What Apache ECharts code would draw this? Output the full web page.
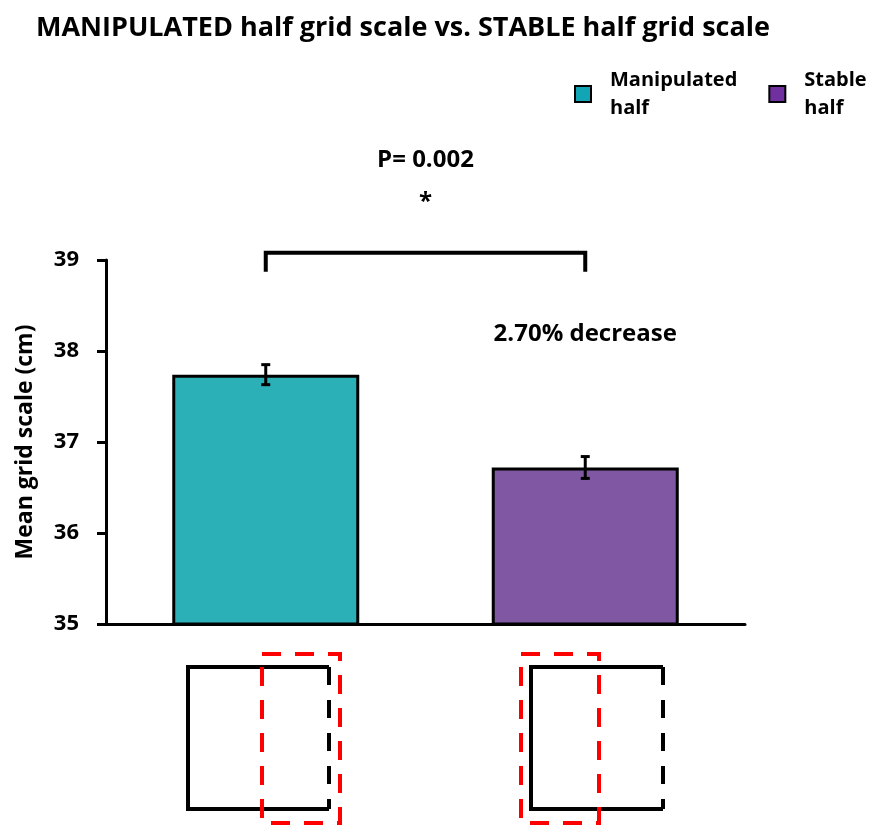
<!DOCTYPE html>
<html><head><meta charset="utf-8">
<script src="https://cdn.jsdelivr.net/npm/echarts@6/dist/echarts.min.js"></script>
<style>html,body{margin:0;padding:0;background:#fff}#chart{width:873px;height:825px}</style>
</head><body><div id="chart"></div>
<script>
// Mean grid scale per half, with standard error
const categories = ['Manipulated half', 'Stable half'];
const meanScale = [37.74, 36.72];
const errScale = [0.11, 0.12];
const yTicks = [35, 36, 37, 38, 39];
const barColors = ['#2BB0B7', '#7F57A2'];
const legendColors = ['#12A5B5', '#7030A0'];
const pValueText = 'P= 0.002';
const sigMark = '*';
const bracketLevels = [39.08, 38.87]; // bracket top and foot, in axis units
const decreaseLevel = 38.18;

const FONT = 'Open Sans';
const decreasePct = ((1 - meanScale[1] / meanScale[0]) * 100).toFixed(2) + '% decrease';

const chart = echarts.init(document.getElementById('chart'), null, {renderer: 'canvas'});

const barSeries = categories.map((name, i) => ({
  name: name,
  type: 'bar',
  data: categories.map((c, j) => (j === i ? meanScale[i] : '-')),
  barWidth: 187,
  barGap: '-100%',
  itemStyle: {color: barColors[i], borderColor: '#000', borderWidth: 3},
  z: 2
}));

const option = {
  animation: false,
  backgroundColor: '#fff',
  title: {
    text: 'MANIPULATED half grid scale vs. STABLE half grid scale',
    left: 31, top: 10,
    textStyle: {fontFamily: FONT, fontWeight: 'bold', fontSize: 27, color: '#000'}
  },
  legend: {
    left: 569, top: 61,
    itemWidth: 16, itemHeight: 16, itemGap: 31,
    icon: 'rect',
    data: categories.map((n, i) => ({name: n, itemStyle: {color: legendColors[i], borderColor: '#000', borderWidth: 2}})),
    formatter: n => n.replace(' ', '\n'),
    textStyle: {fontFamily: FONT, fontWeight: 'bold', fontSize: 20, lineHeight: 28, color: '#000', padding: [0, 0, 0, 14]}
  },
  grid: {left: 106, right: 128, top: 260, bottom: 201, containLabel: false},
  xAxis: {
    type: 'category', data: categories,
    axisLine: {lineStyle: {color: '#000', width: 3}},
    axisTick: {show: false}, axisLabel: {show: false}
  },
  yAxis: {
    type: 'value', min: yTicks[0], max: yTicks[yTicks.length - 1], interval: 1,
    name: 'Mean grid scale (cm)', nameLocation: 'middle', nameGap: 69, nameRotate: 90,
    nameTextStyle: {fontFamily: FONT, fontWeight: 'bold', fontSize: 23, color: '#000'},
    axisLine: {show: true, lineStyle: {color: '#000', width: 3}},
    axisTick: {show: true, length: 9, lineStyle: {color: '#000', width: 3}},
    axisLabel: {fontFamily: FONT, fontWeight: 'bold', fontSize: 22, color: '#000', margin: 27},
    splitLine: {show: false}
  },
  series: barSeries.concat([
    {
      type: 'custom', name: 'err', z: 5, silent: true,
      data: meanScale.map((m, i) => [i, m, errScale[i]]),
      renderItem: (params, api) => {
        const x = api.value(0), m = api.value(1), e = api.value(2);
        const hi = api.coord([x, m + e]), lo = api.coord([x, m - e]);
        const cap = 4.5;
        const st = {stroke: '#000', lineWidth: 3};
        return {type: 'group', children: [
          {type: 'line', shape: {x1: hi[0], y1: hi[1], x2: lo[0], y2: lo[1]}, style: st},
          {type: 'line', shape: {x1: hi[0] - cap, y1: hi[1], x2: hi[0] + cap, y2: hi[1]}, style: st},
          {type: 'line', shape: {x1: lo[0] - cap, y1: lo[1], x2: lo[0] + cap, y2: lo[1]}, style: st}
        ]};
      }
    },
    {
      type: 'custom', name: 'bracket', z: 5, silent: true, clip: false,
      data: [[0, 1, bracketLevels[0], bracketLevels[1]]],
      renderItem: (params, api) => {
        const a0 = api.coord([api.value(0), api.value(3)]);
        const a1 = api.coord([api.value(0), api.value(2)]);
        const b1 = api.coord([api.value(1), api.value(2)]);
        const b0 = api.coord([api.value(1), api.value(3)]);
        const mid = (a1[0] + b1[0]) / 2;
        return {type: 'group', children: [
          {type: 'polyline', shape: {points: [a0, a1, b1, b0]}, style: {stroke: '#000', lineWidth: 4, fill: null}},
          {type: 'text', x: mid, y: a1[1] - 93, style: {text: pValueText, align: 'center', verticalAlign: 'middle', font: 'bold 24px ' + FONT, fill: '#000'}},
          {type: 'text', x: mid, y: a1[1] - 51, style: {text: sigMark, align: 'center', verticalAlign: 'middle', font: 'bold 24px ' + FONT, fill: '#000'}}
        ]};
      }
    },
    {
      type: 'custom', name: 'decrease', z: 5, silent: true, clip: false,
      data: [[1, decreaseLevel]],
      renderItem: (params, api) => {
        const p = api.coord([api.value(0), api.value(1)]);
        return {type: 'text', x: p[0], y: p[1], style: {text: decreasePct, align: 'center', verticalAlign: 'middle', font: 'bold 24px ' + FONT, fill: '#000'}};
      }
    }
  ]),
  // Schematic of each arena half below its bar
  graphic: [
    // manipulated half: black enclosure with open right side, shifted red outline
    {type: 'polyline', shape: {points: [[329, 667], [188, 667], [188, 809], [329, 809]]}, style: {stroke: '#000', lineWidth: 4, fill: null}},
    {type: 'line', shape: {x1: 329, y1: 667, x2: 329, y2: 809}, style: {stroke: '#000', lineWidth: 4, lineDash: [18, 15]}},
    {type: 'rect', shape: {x: 262, y: 654, width: 78, height: 169}, style: {stroke: '#ff0000', lineWidth: 4, fill: null, lineDash: [19, 14]}},
    // stable half
    {type: 'polyline', shape: {points: [[663, 667], [531, 667], [531, 809], [663, 809]]}, style: {stroke: '#000', lineWidth: 4, fill: null}},
    {type: 'line', shape: {x1: 663, y1: 667, x2: 663, y2: 809}, style: {stroke: '#000', lineWidth: 4, lineDash: [18, 15]}},
    {type: 'rect', shape: {x: 521, y: 654, width: 78, height: 169}, style: {stroke: '#ff0000', lineWidth: 4, fill: null, lineDash: [19, 14]}}
  ]
};

chart.setOption(option);
</script>
</body></html>
